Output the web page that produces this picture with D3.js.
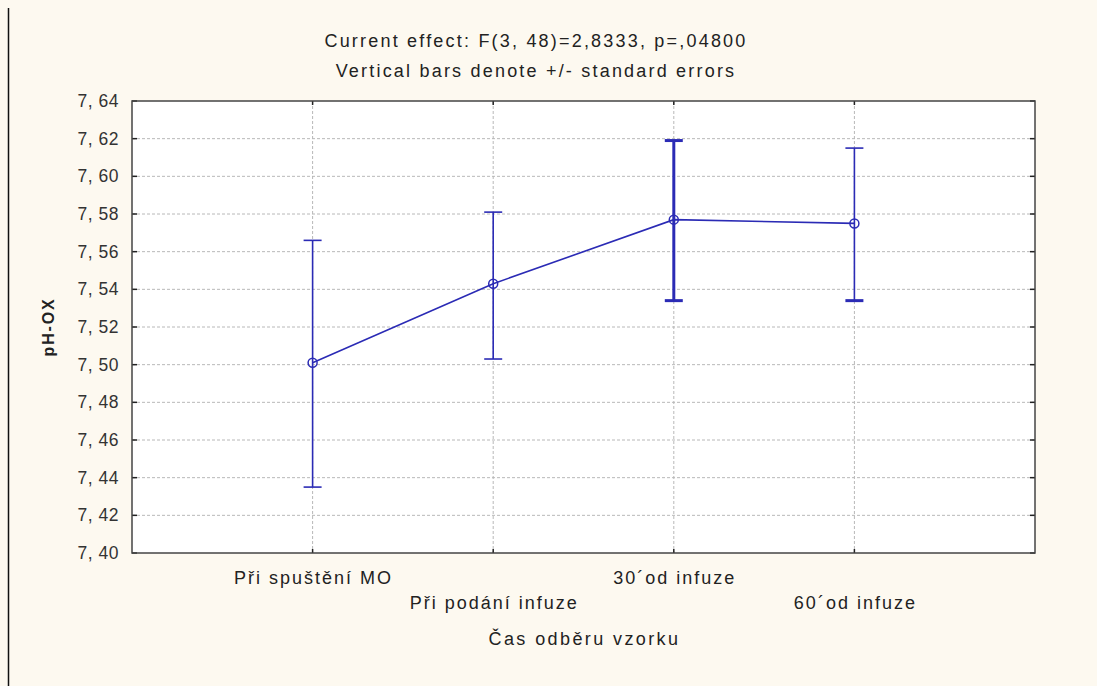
<!DOCTYPE html>
<html>
<head>
<meta charset="utf-8">
<script src="https://cdn.jsdelivr.net/npm/d3@7"></script>
<style>
  body { margin: 0; background: #fdf9f0; }
  svg { display: block; font-family: "Liberation Sans", Arial, sans-serif; }
</style>
</head>
<body>
<svg id="svg" width="1097" height="686"></svg>
<script>
// Data
var categories = ["Při spuštění MO", "Při podání infuze", "30´od infuze", "60´od infuze"];
var means = [7.501, 7.543, 7.577, 7.575];
var upper = [7.566, 7.581, 7.619, 7.615];
var lower = [7.435, 7.503, 7.534, 7.534];
var yTicks = [7.40, 7.42, 7.44, 7.46, 7.48, 7.50, 7.52, 7.54, 7.56, 7.58, 7.60, 7.62, 7.64];
var titleLines = ["Current effect: F(3, 48)=2,8333, p=,04800", "Vertical bars denote +/- standard errors"];

var BLUE = "#2b2bb5";

let svg = d3.select("#svg");
const margin = { top: 101, right: 62, bottom: 133, left: 132 },
  width = +svg.attr("width") - margin.left - margin.right,
  height = +svg.attr("height") - margin.top - margin.bottom;

// left frame line of the figure
svg.append("line")
  .attr("x1", 8.5).attr("x2", 8.5).attr("y1", 8).attr("y2", 686)
  .attr("stroke", "#111").attr("stroke-width", 1.5);

let x = d3.scaleLinear().domain([0, categories.length + 1]).range([0, width]);
let y = d3.scaleLinear().domain([7.40, 7.64]).range([height, 0]);

let g = svg.append("g").attr("transform", "translate(" + margin.left + "," + margin.top + ")");

g.append("rect").attr("width", width).attr("height", height).attr("fill", "#fff");

// grid
g.selectAll(".hgrid").data(yTicks.slice(1, -1)).enter().append("line")
  .attr("x1", 0).attr("x2", width)
  .attr("y1", d => y(d)).attr("y2", d => y(d))
  .attr("stroke", "#b8b8b8").attr("stroke-dasharray", "3,2");
g.selectAll(".vgrid").data(categories).enter().append("line")
  .attr("x1", (d, i) => x(i + 1)).attr("x2", (d, i) => x(i + 1))
  .attr("y1", 0).attr("y2", height)
  .attr("stroke", "#b8b8b8").attr("stroke-dasharray", "3,2");

// inside tick marks
g.selectAll(".ltick").data(yTicks).enter().append("line")
  .attr("x1", 0).attr("x2", 5).attr("y1", d => y(d)).attr("y2", d => y(d))
  .attr("stroke", "#222").attr("stroke-width", 1.5);
g.selectAll(".rtick").data(yTicks).enter().append("line")
  .attr("x1", width - 5).attr("x2", width).attr("y1", d => y(d)).attr("y2", d => y(d))
  .attr("stroke", "#222").attr("stroke-width", 1.5);
g.selectAll(".btick").data(categories).enter().append("line")
  .attr("x1", (d, i) => x(i + 1)).attr("x2", (d, i) => x(i + 1))
  .attr("y1", height - 4).attr("y2", height)
  .attr("stroke", "#222").attr("stroke-width", 1.5);
g.selectAll(".ttick").data(categories).enter().append("line")
  .attr("x1", (d, i) => x(i + 1)).attr("x2", (d, i) => x(i + 1))
  .attr("y1", 0).attr("y2", 4)
  .attr("stroke", "#222").attr("stroke-width", 1.5);

// frame
g.append("rect").attr("width", width).attr("height", height)
  .attr("fill", "none").attr("stroke", "#444").attr("stroke-width", 1.5);

// y tick labels
g.selectAll(".ylab").data(yTicks).enter().append("text")
  .attr("x", -13).attr("y", d => y(d)).attr("dy", "0.35em")
  .attr("text-anchor", "end").attr("font-size", 17.5).attr("letter-spacing", 0.5).attr("fill", "#333")
  .text(d => d.toFixed(2).replace(".", ", "));

// error bars
let bars = g.selectAll(".err").data(categories).enter().append("g")
  .attr("stroke", BLUE)
  .attr("stroke-width", (d, i) => i == 2 ? 3 : 1.6);
bars.append("line")
  .attr("x1", (d, i) => x(i + 1)).attr("x2", (d, i) => x(i + 1))
  .attr("y1", (d, i) => y(upper[i])).attr("y2", (d, i) => y(lower[i]));
bars.append("line")
  .attr("x1", (d, i) => x(i + 1) - 9).attr("x2", (d, i) => x(i + 1) + 9)
  .attr("y1", (d, i) => y(upper[i])).attr("y2", (d, i) => y(upper[i]));
bars.append("line")
  .attr("x1", (d, i) => x(i + 1) - 9).attr("x2", (d, i) => x(i + 1) + 9)
  .attr("y1", (d, i) => y(lower[i])).attr("y2", (d, i) => y(lower[i]))
  .attr("stroke-width", (d, i) => i >= 2 ? 3 : 1.6);

// mean line
let line = d3.line().x((d, i) => x(i + 1)).y(d => y(d));
g.append("path").datum(means)
  .attr("d", line).attr("fill", "none")
  .attr("stroke", BLUE).attr("stroke-width", 1.6);

g.selectAll(".pt").data(means).enter().append("circle")
  .attr("cx", (d, i) => x(i + 1)).attr("cy", d => y(d)).attr("r", 4.5)
  .attr("fill", "none").attr("stroke", BLUE).attr("stroke-width", 1.5);

// x category labels, staggered in two rows
g.selectAll(".xlab").data(categories).enter().append("text")
  .attr("x", (d, i) => x(i + 1) + 1)
  .attr("y", (d, i) => height + (i % 2 == 0 ? 31 : 56))
  .attr("text-anchor", "middle").attr("font-size", 18).attr("letter-spacing", 2).attr("fill", "#222")
  .text(d => d);

// axis titles
g.append("text")
  .attr("x", width / 2 + 1).attr("y", height + 92)
  .attr("text-anchor", "middle").attr("font-size", 18).attr("letter-spacing", 2.4).attr("fill", "#222")
  .text("Čas odběru vzorku");

svg.append("text")
  .attr("transform", "translate(54," + (margin.top + height / 2) + ")rotate(-90)")
  .attr("text-anchor", "middle").attr("font-size", 16).attr("letter-spacing", 1.8)
  .attr("font-weight", "bold").attr("fill", "#222")
  .text("pH-OX");

// title
svg.selectAll(".title").data(titleLines).enter().append("text")
  .attr("x", 536).attr("y", (d, i) => 47 + i * 30)
  .attr("text-anchor", "middle").attr("font-size", 18).attr("letter-spacing", 2.2).attr("fill", "#222")
  .text(d => d);
</script>
</body>
</html>
